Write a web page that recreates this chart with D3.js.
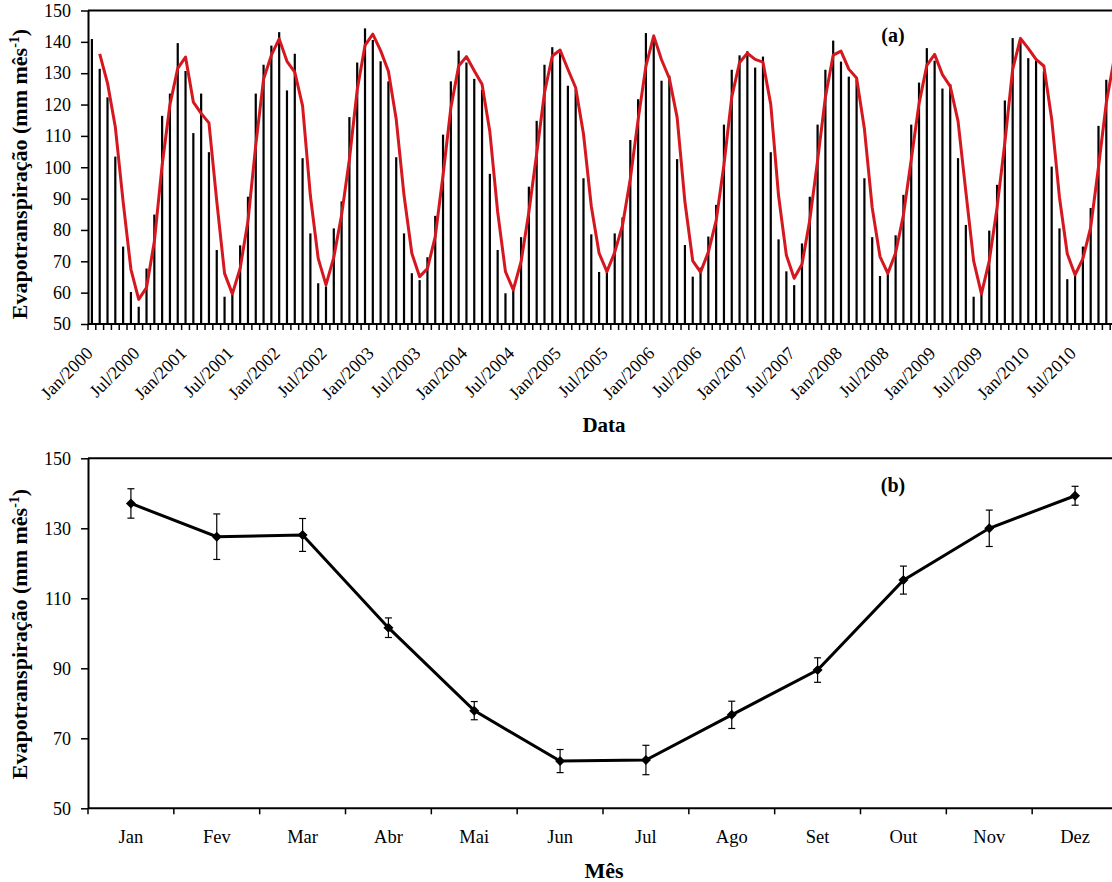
<!DOCTYPE html>
<html>
<head>
<meta charset="utf-8">
<script src="https://cdn.jsdelivr.net/npm/d3@7"></script>
<style>
  body { margin: 0; background: #fff; }
  svg text { font-family: "Liberation Serif", "Times New Roman", serif; fill: #000; }
</style>
</head>
<body>
<svg id="chart"></svg>
<script>
// Monthly evapotranspiration, Jan/2000 .. Dec/2010 (mm mês-1)
const etMensal = [
  140.9, 131.4, 122.3, 103.4, 74.7, 60.2, 55.5, 67.7, 84.9, 116.4, 123.5, 139.6,
  130.7, 110.9, 123.5, 104.8, 73.6, 58.7, 60.5, 75.1, 90.6, 123.5, 132.7, 138.8,
  143.1, 124.5, 136.2, 102.9, 78.9, 63.0, 62.0, 80.5, 89.1, 116.0, 133.4, 144.3,
  140.6, 133.8, 127.4, 103.2, 78.9, 66.2, 64.0, 71.3, 84.5, 110.4, 127.4, 137.2,
  133.4, 128.2, 124.7, 97.9, 73.6, 59.8, 62.0, 77.7, 93.8, 114.8, 132.7, 138.3,
  136.5, 126.0, 124.7, 96.5, 78.6, 66.6, 66.8, 78.9, 84.0, 108.7, 121.7, 142.8,
  141.0, 127.6, 129.2, 102.6, 75.2, 65.1, 68.0, 77.9, 88.0, 113.6, 131.1, 135.7,
  137.0, 131.8, 135.3, 104.8, 77.0, 66.8, 62.4, 75.7, 90.6, 113.6, 131.1, 140.4,
  133.7, 128.9, 128.0, 96.5, 77.7, 65.3, 67.0, 78.3, 91.2, 113.6, 127.0, 138.0,
  134.0, 125.1, 126.5, 102.9, 81.6, 58.7, 60.5, 79.8, 94.4, 121.3, 141.2, 141.0,
  134.8, 134.0, 130.6, 100.2, 80.5, 64.3, 67.0, 74.7, 87.0, 113.2, 127.9, 141.0
];
const anos = d3.range(2000, 2011);
const mesesAbrev = ["Jan", "Fev", "Mar", "Abr", "Mai", "Jun", "Jul", "Ago", "Set", "Out", "Nov", "Dez"];
const mesesRotulo = ["Jan", "Jul"]; // label every 6 months: Jan/yyyy, Jul/yyyy

// Monthly means 2000-2010 and their error bars
const mediaMensal = [137.1, 127.6, 128.1, 101.6, 77.9, 63.5, 63.8, 76.7, 89.5, 115.2, 130.0, 139.3];
const erroMensal  = [4.2, 6.5, 4.7, 2.8, 2.6, 3.3, 4.2, 3.9, 3.5, 4.0, 5.2, 2.7];

const yTicks = [50, 60, 70, 80, 90, 100, 110, 120, 130, 140, 150];
const yTicksB = [50, 70, 90, 110, 130, 150];

const width = 1112, height = 882;
const svg = d3.select("#chart")
    .attr("width", width)
    .attr("height", height)
    .attr("viewBox", `0 0 ${width} ${height}`);

svg.append("rect").attr("width", width).attr("height", height).attr("fill", "#fff");

const left = 88, right = 1118; // plot is cut by the picture edge on the right

// ---------- panel (a) ----------
const dados = etMensal.map((v, i) => ({
    i: i,
    ano: anos[Math.floor(i / 12)],
    mes: mesesAbrev[i % 12],
    v: v
}));

// 2-period moving average trendline of the monthly series (red line)
const mediaMovel = dados.slice(1).map((d, k) => ({ i: d.i, v: (d.v + dados[k].v) / 2 }));

const xA = d3.scaleBand().domain(dados.map(d => d.i)).range([left, right]).padding(0);
const yA = d3.scaleLinear().domain([50, 150]).range([324, 10.5]);

const gA = svg.append("g");

gA.selectAll(".bar")
    .data(dados)
    .join("rect")
    .attr("class", "bar")
    .attr("x", d => xA(d.i) + xA.bandwidth() / 2 - 1.1)
    .attr("width", 2.2)
    .attr("y", d => yA(d.v))
    .attr("height", d => yA(50) - yA(d.v))
    .attr("fill", "#000");

gA.append("path")
    .datum(mediaMovel)
    .attr("fill", "none")
    .attr("stroke", "#d5181f")
    .attr("stroke-width", 3)
    .attr("stroke-linejoin", "round")
    .attr("d", d3.line().x(d => xA(d.i) + xA.bandwidth() / 2).y(d => yA(d.v)));

// frame line on top
gA.append("line").attr("x1", left).attr("x2", width).attr("y1", yA(150)).attr("y2", yA(150))
    .attr("stroke", "#000").attr("stroke-width", 2);

function styleY(g) {
    g.select(".domain").attr("stroke-width", 2);
    g.selectAll(".tick line").attr("stroke-width", 1.5);
    g.selectAll(".tick text").attr("font-size", 18).attr("font-family", "Liberation Serif");
}

gA.append("g")
    .attr("transform", `translate(${left},0)`)
    .call(d3.axisLeft(yA).tickValues(yTicks).tickSize(7).tickSizeOuter(0).tickPadding(10))
    .call(styleY);

// x axis: a tick at every month boundary, labels every 6 months
const xAxisA = gA.append("g").attr("transform", `translate(0,${yA(50)})`);
xAxisA.append("line").attr("x1", left).attr("x2", width).attr("stroke", "#000").attr("stroke-width", 2);
xAxisA.selectAll(".mtick")
    .data(d3.range(dados.length + 1))
    .join("line")
    .attr("class", "mtick")
    .attr("x1", k => left + k * xA.step())
    .attr("x2", k => left + k * xA.step())
    .attr("y1", 0).attr("y2", 6)
    .attr("stroke", "#000").attr("stroke-width", 1.5);

const rotulos = dados.filter(d => mesesRotulo.includes(d.mes));
xAxisA.selectAll(".xlab")
    .data(rotulos)
    .join("text")
    .attr("class", "xlab")
    .attr("text-anchor", "end")
    .attr("font-size", 18)
    .attr("transform", d => `translate(${xA(d.i) + xA.bandwidth() / 2 + 2},${30.5}) rotate(-45)`)
    .text(d => `${d.mes}/${d.ano}`);

svg.append("text").attr("x", 604).attr("y", 432).attr("text-anchor", "middle")
    .attr("font-size", 21).attr("font-weight", "bold").text("Data");

svg.append("text").attr("x", 893).attr("y", 42).attr("text-anchor", "middle")
    .attr("font-size", 20).attr("font-weight", "bold").text("(a)");

function yLabel(cy) {
    const t = svg.append("text")
        .attr("transform", `translate(27,${cy}) rotate(-90)`)
        .attr("text-anchor", "middle")
        .attr("font-size", 22)
        .attr("font-weight", "bold");
    t.append("tspan").text("Evapotranspiração  (mm mês");
    t.append("tspan").attr("font-size", 14).attr("dy", -8).text("-1");
    t.append("tspan").attr("dy", 8).text(")");
}
yLabel(174);

// ---------- panel (b) ----------
const dadosB = mesesAbrev.map((m, k) => ({ mes: m, v: mediaMensal[k], e: erroMensal[k] }));
const xB = d3.scaleBand().domain(mesesAbrev).range([left, right]).padding(0);
const yB = d3.scaleLinear().domain([50, 150]).range([808.3, 458.3]);
const cx = d => xB(d.mes) + xB.bandwidth() / 2;

const gB = svg.append("g");

gB.append("line").attr("x1", left).attr("x2", width).attr("y1", yB(150)).attr("y2", yB(150))
    .attr("stroke", "#000").attr("stroke-width", 2);

gB.append("g")
    .attr("transform", `translate(${left},0)`)
    .call(d3.axisLeft(yB).tickValues(yTicksB).tickSize(7).tickSizeOuter(0).tickPadding(10))
    .call(styleY);

const xAxisB = gB.append("g").attr("transform", `translate(0,${yB(50)})`);
xAxisB.append("line").attr("x1", left).attr("x2", width).attr("stroke", "#000").attr("stroke-width", 2);
xAxisB.selectAll(".mtick")
    .data(d3.range(mesesAbrev.length + 1))
    .join("line")
    .attr("x1", k => left + k * xB.step())
    .attr("x2", k => left + k * xB.step())
    .attr("y1", 0).attr("y2", 6)
    .attr("stroke", "#000").attr("stroke-width", 1.5);
xAxisB.selectAll(".xlab")
    .data(dadosB)
    .join("text")
    .attr("x", cx)
    .attr("y", 34.7)
    .attr("text-anchor", "middle")
    .attr("font-size", 18.5)
    .text(d => d.mes);

// error bars
const eb = gB.selectAll(".err").data(dadosB).join("g").attr("stroke", "#000").attr("stroke-width", 1.2);
eb.append("line").attr("x1", cx).attr("x2", cx).attr("y1", d => yB(d.v + d.e)).attr("y2", d => yB(d.v - d.e));
eb.append("line").attr("x1", d => cx(d) - 3.5).attr("x2", d => cx(d) + 3.5).attr("y1", d => yB(d.v + d.e)).attr("y2", d => yB(d.v + d.e));
eb.append("line").attr("x1", d => cx(d) - 3.5).attr("x2", d => cx(d) + 3.5).attr("y1", d => yB(d.v - d.e)).attr("y2", d => yB(d.v - d.e));

gB.append("path")
    .datum(dadosB)
    .attr("fill", "none")
    .attr("stroke", "#000")
    .attr("stroke-width", 3)
    .attr("d", d3.line().x(cx).y(d => yB(d.v)));

gB.selectAll(".mk")
    .data(dadosB)
    .join("path")
    .attr("transform", d => `translate(${cx(d)},${yB(d.v)})`)
    .attr("d", "M0,-5L5,0L0,5L-5,0Z")
    .attr("fill", "#000");

svg.append("text").attr("x", 604).attr("y", 878).attr("text-anchor", "middle")
    .attr("font-size", 22).attr("font-weight", "bold").text("Mês");

svg.append("text").attr("x", 893).attr("y", 492).attr("text-anchor", "middle")
    .attr("font-size", 20).attr("font-weight", "bold").text("(b)");

yLabel(634);
</script>
</body>
</html>
